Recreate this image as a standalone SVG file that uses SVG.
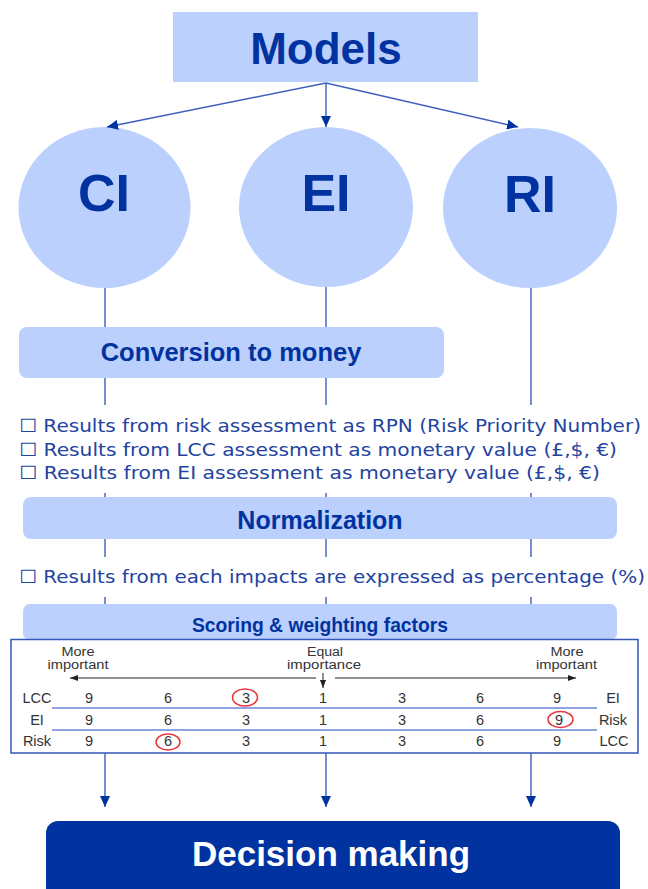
<svg xmlns="http://www.w3.org/2000/svg" width="648" height="889" viewBox="0 0 648 889">
<style>
.box{fill:#bbd0fd}
.title{font-family:"Liberation Sans",Arial,sans-serif;font-weight:bold;fill:#0033a0;text-anchor:middle}
.note{font-family:"DejaVu Sans",Verdana,sans-serif;font-size:18.5px;fill:#2343a0}
.link{fill:none;stroke:#3d5fc0;stroke-width:1.4}
.tbl{font-family:"Liberation Sans",Arial,sans-serif;fill:#333;text-anchor:middle}
.hdr{font-size:12.5px}
.num{font-size:14.5px}
.lbl{font-size:14.5px}
.sep{stroke:#6a86d6;stroke-width:1.5}
.mark{fill:none;stroke:#e8343a;stroke-width:1.5}
.thin{fill:none;stroke:#222;stroke-width:1}
</style>
<defs>
<marker id="ah" markerUnits="userSpaceOnUse" markerWidth="12" markerHeight="10" refX="11" refY="5" orient="auto"><path d="M0,0 L11,5 L0,10 z" fill="#0033a0"/></marker>
<marker id="ahs" markerUnits="userSpaceOnUse" markerWidth="8" markerHeight="6" refX="8" refY="3" orient="auto"><path d="M0,0 L8,3 L0,6 z" fill="#222"/></marker>
</defs>
<rect width="648" height="889" fill="#fff"/>

<g id="models">
<rect class="box" x="173" y="12" width="305" height="70"/>
<text class="title" x="326" y="64" font-size="44">Models</text>
</g>

<g id="ci">
<ellipse class="box" cx="104.5" cy="207.5" rx="86" ry="80.5"/>
<text class="title" x="104" y="211" font-size="52">CI</text>
</g>
<g id="ei">
<ellipse class="box" cx="326" cy="207" rx="87" ry="80"/>
<text class="title" x="326" y="211" font-size="52">EI</text>
</g>
<g id="ri">
<ellipse class="box" cx="530" cy="208" rx="87" ry="80"/>
<text class="title" x="530" y="212" font-size="52">RI</text>
</g>

<g id="conversion">
<rect class="box" x="19" y="327" width="425" height="51" rx="8"/>
<text class="title" x="231" y="361" font-size="25.5">Conversion to money</text>
</g>
<g id="conversion-notes">
<text class="note" x="19" y="432" textLength="622" lengthAdjust="spacingAndGlyphs">☐ Results from risk assessment as RPN (Risk Priority Number)</text>
<text class="note" x="19" y="456" textLength="598" lengthAdjust="spacingAndGlyphs">☐ Results from LCC assessment as monetary value (£,$, €)</text>
<text class="note" x="19" y="479" textLength="581" lengthAdjust="spacingAndGlyphs">☐ Results from EI assessment as monetary value (£,$, €)</text>
</g>

<g id="normalization">
<rect class="box" x="23" y="497" width="594" height="42" rx="8"/>
<text class="title" x="320" y="529" font-size="25">Normalization</text>
</g>
<g id="normalization-notes">
<text class="note" x="19" y="583" textLength="626" lengthAdjust="spacingAndGlyphs">☐ Results from each impacts are expressed as percentage (%)</text>
</g>

<g id="scoring">
<rect class="box" x="23" y="604" width="594" height="36" rx="7"/>
<text class="title" x="320" y="632" font-size="19.3">Scoring &amp; weighting factors</text>
</g>

<g id="scoring-table">
<rect x="11" y="639.5" width="627" height="113.5" fill="#fff" stroke="#3356b8" stroke-width="1.5"/>
<g class="tbl hdr">
<text x="78" y="656" textLength="33" lengthAdjust="spacingAndGlyphs">More</text>
<text x="78" y="669" textLength="61" lengthAdjust="spacingAndGlyphs">important</text>
<text x="325" y="656" textLength="36" lengthAdjust="spacingAndGlyphs">Equal</text>
<text x="324" y="669" textLength="74" lengthAdjust="spacingAndGlyphs">importance</text>
<text x="567" y="656" textLength="33" lengthAdjust="spacingAndGlyphs">More</text>
<text x="566.5" y="669" textLength="61" lengthAdjust="spacingAndGlyphs">important</text>
</g>
<path class="thin" d="M316,678 L70,678" marker-end="url(#ahs)"/>
<path class="thin" d="M335,678 L576,678" marker-end="url(#ahs)"/>
<path class="thin" d="M323,673 L323,688" marker-end="url(#ahs)"/>
<line class="sep" x1="52" y1="708" x2="597" y2="708"/>
<line class="sep" x1="52" y1="730" x2="597" y2="730"/>
<g class="tbl lbl">
<text x="37" y="703">LCC</text>
<text x="37" y="724.5">EI</text>
<text x="37" y="746">Risk</text>
<text x="613" y="703">EI</text>
<text x="613" y="724.5">Risk</text>
<text x="614" y="746">LCC</text>
</g>
<g class="tbl num">
<text x="89" y="703">9</text><text x="168" y="703">6</text><text x="246" y="703">3</text><text x="323" y="703">1</text><text x="402" y="703">3</text><text x="480" y="703">6</text><text x="557" y="703">9</text>
<text x="89" y="724.5">9</text><text x="168" y="724.5">6</text><text x="246" y="724.5">3</text><text x="323" y="724.5">1</text><text x="402" y="724.5">3</text><text x="480" y="724.5">6</text><text x="559" y="724.5">9</text>
<text x="89" y="746">9</text><text x="168" y="746">6</text><text x="246" y="746">3</text><text x="323" y="746">1</text><text x="402" y="746">3</text><text x="480" y="746">6</text><text x="557" y="746">9</text>
</g>
<ellipse class="mark" cx="245" cy="697.5" rx="12.5" ry="8.5"/>
<ellipse class="mark" cx="560.5" cy="719.5" rx="12.5" ry="8"/>
<ellipse class="mark" cx="168" cy="742" rx="12" ry="8"/>
</g>

<g id="decision">
<rect x="46" y="821" width="574" height="90" rx="12" fill="#0033a0"/>
<text class="title" x="331" y="866" font-size="35" style="fill:#fff">Decision making</text>
</g>

<g id="connectors">
<path class="link" d="M326,83 L107,127" marker-end="url(#ah)"/>
<path class="link" d="M326,83 L326,127" marker-end="url(#ah)"/>
<path class="link" d="M326,83 L518,127" marker-end="url(#ah)"/>
<path class="link" d="M105,288 V327 M105,378 V405 M105,493 V497 M105,539 V557 M105,597 V604"/>
<path class="link" d="M326,287 V327 M326,378 V405 M326,493 V497 M326,539 V557 M326,597 V604"/>
<path class="link" d="M531,288 V405 M531,493 V497 M531,539 V557 M531,597 V604"/>
<path class="link" d="M105,753 V807" marker-end="url(#ah)"/>
<path class="link" d="M326,753 V807" marker-end="url(#ah)"/>
<path class="link" d="M531,753 V807" marker-end="url(#ah)"/>
</g>
</svg>
